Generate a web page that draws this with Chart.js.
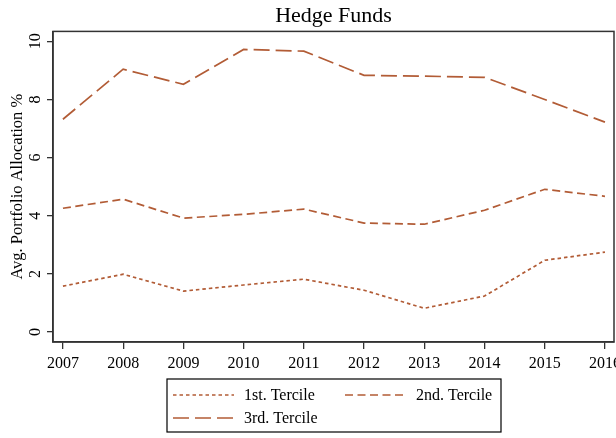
<!DOCTYPE html>
<html>
<head>
<meta charset="utf-8">
<script src="https://cdn.jsdelivr.net/npm/chart.js@4"></script>
<style>
  body { margin: 0; background: #fff; }
  #wrap { width: 616px; height: 438px; position: relative; }
</style>
</head>
<body>
<div id="wrap"><canvas id="myChart"></canvas></div>
<script>
// values
var years = [2007, 2008, 2009, 2010, 2011, 2012, 2013, 2014, 2015, 2016];
var tercile1 = [1.58, 1.99, 1.41, 1.62, 1.82, 1.44, 0.82, 1.24, 2.47, 2.75];
var tercile2 = [4.26, 4.57, 3.92, 4.05, 4.23, 3.75, 3.71, 4.19, 4.91, 4.67];
var tercile3 = [7.32, 9.04, 8.52, 9.72, 9.66, 8.83, 8.80, 8.76, 8.00, 7.22];
var yTicks = [0, 2, 4, 6, 8, 10];
var seriesNames = ['1st. Tercile', '2nd. Tercile', '3rd. Tercile'];

var lineColor = '#b25c36';
var axisColor = '#333333';
var serif = "'Liberation Serif', 'Times New Roman', serif";

function points(vals) {
    return years.map(function (yr, i) { return { x: yr, y: vals[i] }; });
}

// box round the plot, like stata draws it
var frame = {
    id: 'frame',
    afterDatasetsDraw: function (chart) {
        var a = chart.chartArea, ctx = chart.ctx;
        ctx.save();
        ctx.strokeStyle = axisColor;
        ctx.lineWidth = 1.5;
        ctx.strokeRect(a.left, a.top, a.right - a.left, a.bottom - a.top);
        ctx.restore();
    }
};

// y tick labels are turned on their side
var sideTicks = {
    id: 'sideTicks',
    afterDraw: function (chart) {
        var sc = chart.scales.y, ctx = chart.ctx;
        ctx.save();
        ctx.fillStyle = '#000';
        ctx.font = '16px ' + serif;
        ctx.textAlign = 'center';
        ctx.textBaseline = 'middle';
        sc.ticks.forEach(function (t) {
            ctx.save();
            ctx.translate(sc.right - 17, sc.getPixelForValue(t.value));
            ctx.rotate(-Math.PI / 2);
            ctx.fillText(String(t.value), 0, 0);
            ctx.restore();
        });
        ctx.restore();
    }
};

// legend with a frame, two columns
var boxLegend = {
    id: 'boxLegend',
    afterDraw: function (chart) {
        var a = chart.chartArea, ctx = chart.ctx;
        var left = Math.round((a.left + a.right) / 2) - 167;
        var top = a.bottom + 37;
        ctx.save();
        ctx.strokeStyle = '#000';
        ctx.lineWidth = 1.2;
        ctx.strokeRect(left, top, 334, 53);
        ctx.font = '16px ' + serif;
        ctx.textBaseline = 'middle';
        ctx.fillStyle = '#000';
        var spots = [[left + 6, top + 16], [left + 178, top + 16], [left + 6, top + 39]];
        chart.data.datasets.forEach(function (ds, i) {
            var p = spots[i];
            ctx.save();
            ctx.strokeStyle = ds.borderColor;
            ctx.lineWidth = ds.borderWidth;
            ctx.setLineDash(ds.borderDash);
            ctx.beginPath();
            ctx.moveTo(p[0], p[1]);
            ctx.lineTo(p[0] + 61, p[1]);
            ctx.stroke();
            ctx.restore();
            ctx.fillText(ds.label, p[0] + 71, p[1] + 1);
        });
        ctx.restore();
    }
};

var ctx = document.getElementById('myChart').getContext('2d');
var chart = new Chart(ctx, {
    type: 'line',
    data: {
        datasets: [{
            label: seriesNames[0],
            data: points(tercile1),
            borderColor: lineColor,
            borderWidth: 1.7,
            borderDash: [3.5, 3],
            pointRadius: 0,
            fill: false
        }, {
            label: seriesNames[1],
            data: points(tercile2),
            borderColor: lineColor,
            borderWidth: 1.7,
            borderDash: [8, 4.5],
            pointRadius: 0,
            fill: false
        }, {
            label: seriesNames[2],
            data: points(tercile3),
            borderColor: lineColor,
            borderWidth: 1.7,
            borderDash: [16, 6],
            pointRadius: 0,
            fill: false
        }]
    },
    options: {
        responsive: true,
        maintainAspectRatio: false,
        animation: false,
        layout: { padding: { left: 0, right: 2, top: 0, bottom: 0 } },
        plugins: {
            legend: { display: false },
            tooltip: { enabled: false },
            title: {
                display: true,
                fullSize: false,
                text: 'Hedge Funds',
                color: '#000',
                font: { family: serif, size: 22, weight: 'normal', lineHeight: 1.2 },
                padding: { top: 3, bottom: 2 }
            }
        },
        scales: {
            x: {
                type: 'linear',
                min: 2006.835,
                max: 2016.15,
                afterBuildTicks: function (s) {
                    s.ticks = years.map(function (v) { return { value: v }; });
                },
                afterFit: function (s) {
                    s.height = 96;
                    s.paddingLeft = 0;
                    s.paddingRight = 0;
                },
                ticks: {
                    color: '#000',
                    font: { family: serif, size: 16 },
                    maxRotation: 0,
                    autoSkip: false,
                    padding: 5,
                    callback: function (v) { return String(v); }
                },
                grid: { drawOnChartArea: false, drawTicks: true, tickLength: 7, color: axisColor, lineWidth: 1.3 },
                border: { color: axisColor, width: 1.5 }
            },
            y: {
                min: -0.34,
                max: 10.34,
                afterBuildTicks: function (s) {
                    s.ticks = yTicks.map(function (v) { return { value: v }; });
                },
                afterFit: function (s) {
                    s.width = 53;
                },
                ticks: { display: false },
                grid: { drawOnChartArea: false, drawTicks: true, tickLength: 6, color: axisColor, lineWidth: 1.3 },
                border: { color: axisColor, width: 1.5 },
                title: {
                    display: true,
                    text: 'Avg. Portfolio Allocation %',
                    color: '#000',
                    font: { family: serif, size: 16.5 },
                    padding: { top: 8, bottom: 0 }
                }
            }
        }
    },
    plugins: [frame, sideTicks, boxLegend]
});
</script>
</body>
</html>
